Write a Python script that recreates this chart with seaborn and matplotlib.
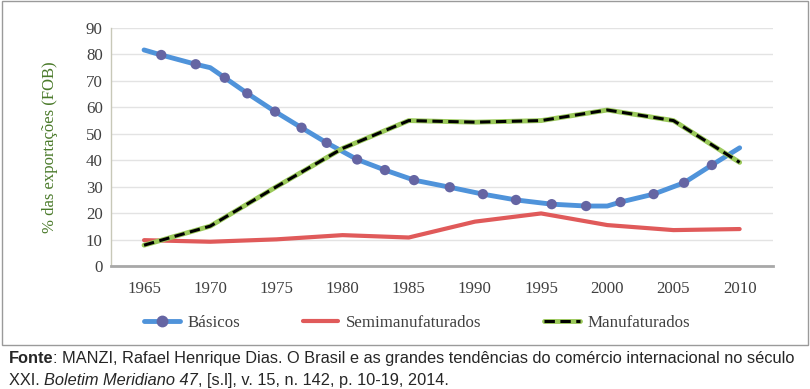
import matplotlib
matplotlib.use("Agg")
import matplotlib.pyplot as plt
import seaborn as sns
from matplotlib.lines import Line2D
from matplotlib.patches import Rectangle

# --- data ---
years = [1965, 1970, 1975, 1980, 1985, 1990, 1995, 2000, 2005, 2010]
semi = [9.8, 9.2, 10.1, 11.7, 10.8, 16.8, 19.9, 15.5, 13.6, 14.0]
manuf = [7.9, 15.1, 30.0, 44.5, 55.0, 54.4, 55.0, 59.0, 55.0, 39.2]

bas_years = [1965, 1966.3, 1968.9, 1970, 1971.1, 1972.8, 1974.9, 1976.9, 1978.8,
             1981.1, 1983.2, 1985.4, 1988.1, 1990.6, 1993.1, 1995.8, 1998.4,
             2000, 2001.0, 2003.5, 2005.8, 2007.9, 2010]
bas_vals = [81.7, 79.8, 76.3, 75.0, 71.2, 65.3, 58.4, 52.3, 46.6,
            40.3, 36.3, 32.5, 29.8, 27.2, 25.0, 23.4, 22.7,
            22.7, 24.2, 27.2, 31.5, 38.2, 44.7]
bas_marker = [False, True, True, False, True, True, True, True, True,
              True, True, True, True, True, True, True, True,
              False, True, True, True, True, False]

series_names = ["Básicos", "Semimanufaturados", "Manufaturados"]
y_ticks = list(range(0, 100, 10))

c_blue = "#4F93DA"
c_mark = "#6565A3"
c_red = "#E05A5A"
c_green = "#9BC95A"
c_text = "#404040"
dash = (0, (3.4, 1.8))

sns.set_style("white")
plt.rcParams["font.family"] = ["Liberation Serif", "DejaVu Serif"]

fig = plt.figure(figsize=(8.1, 3.89), dpi=100)
ax = fig.add_axes([0.137, 0.316, 0.817, 0.612])

sns.lineplot(x=years, y=semi, ax=ax, color=c_red, lw=3, zorder=3)
sns.lineplot(x=bas_years, y=bas_vals, ax=ax, color=c_blue, lw=3.5, zorder=4)
mx = [x for x, m in zip(bas_years, bas_marker) if m]
my = [v for v, m in zip(bas_vals, bas_marker) if m]
sns.scatterplot(x=mx, y=my, ax=ax, color=c_mark, s=55, edgecolor="none", zorder=5)
sns.lineplot(x=years, y=manuf, ax=ax, color=c_green, lw=3.5, zorder=6)
sns.lineplot(x=years, y=manuf, ax=ax, color="black", lw=2.2, zorder=7, linestyle=dash)

ax.set_xlim(1962.5, 2012.5)
ax.set_ylim(0, 90)
ax.set_yticks(y_ticks)
ax.set_xticks(years)
ax.yaxis.grid(True, color="#E3E3E3", lw=1)
ax.set_axisbelow(True)
for s in ["top", "right"]:
    ax.spines[s].set_visible(False)
ax.spines["left"].set_color("#C8C8B8")
ax.spines["left"].set_linewidth(1)
ax.spines["bottom"].set_color("#A8A8A8")
ax.spines["bottom"].set_linewidth(2)
ax.tick_params(axis="both", length=0, labelsize=12.2, labelcolor=c_text)
ax.tick_params(axis="x", pad=11)
ax.tick_params(axis="y", pad=6)
ax.set_ylabel("% das exportações (FOB)", fontsize=12, color="#4A7A2A", labelpad=20)

# legend
h_bas = Line2D([], [], color=c_blue, lw=3.5, marker="o", markersize=7.5,
               markerfacecolor=c_mark, markeredgecolor=c_mark)
h_semi = Line2D([], [], color=c_red, lw=3)
h_man = (Line2D([], [], color=c_green, lw=3.5),
         Line2D([], [], color="black", lw=2.2, linestyle=dash))
leg = fig.legend([h_bas, h_semi, h_man], series_names, loc="center",
                 bbox_to_anchor=(0.515, 0.170), ncol=3, frameon=False,
                 fontsize=12.2, handlelength=2.1, columnspacing=3.7, handletextpad=0.45)
for t in leg.get_texts():
    t.set_color(c_text)

# outer frame of the chart
fig.patches.append(Rectangle((0.003, 0.113), 0.994, 0.884, transform=fig.transFigure,
                             fill=False, edgecolor="#9A9A9A", lw=1))

# source note
sans = ["Liberation Sans", "DejaVu Sans"]
fs = 11.8
t1 = fig.text(0.011, 0.067, "Fonte", fontsize=fs, weight="bold", family=sans, va="baseline")
ax.annotate(": MANZI, Rafael Henrique Dias. O Brasil e as grandes tendências do comércio internacional no século",
            xy=(1, 0), xycoords=t1, va="bottom", ha="left", fontsize=fs, family=sans,
            annotation_clip=False)
t2 = fig.text(0.011, 0.011, "XXI. ", fontsize=fs, family=sans, va="baseline")
t3 = ax.annotate("Boletim Meridiano 47", xy=(1, 0), xycoords=t2, va="bottom", ha="left",
                 fontsize=fs, family=sans, style="italic", annotation_clip=False)
ax.annotate(", [s.l], v. 15, n. 142, p. 10-19, 2014.", xy=(1, 0), xycoords=t3,
            va="bottom", ha="left", fontsize=fs, family=sans, annotation_clip=False)

fig.savefig("out.png", dpi=100)
